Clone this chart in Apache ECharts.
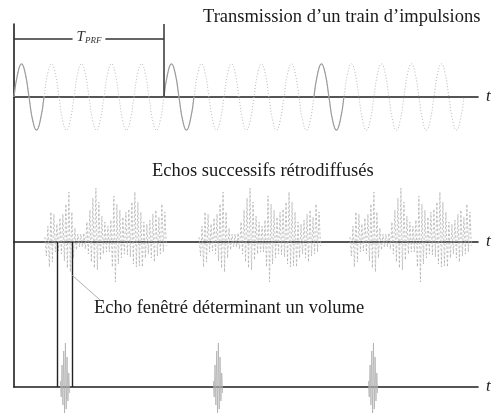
<!DOCTYPE html>
<html><head><meta charset="utf-8">
<script src="https://cdn.jsdelivr.net/npm/echarts@6/dist/echarts.min.js"></script>
<style>html,body{margin:0;padding:0;background:#fff}#c{width:492px;height:415px}</style>
</head><body><div id="c"></div>
<script>
// ---- data (time unit = one carrier period) ----
const carrierCycle = [0, 0.71, 1, 0.71, 0, -0.71, -1, -0.71];   // one period of the emitted carrier
const pulseCycleCount = 15;                                       // periods drawn on the transmit line
const pulseSolidCycles = [0, 5, 10];                              // emitted pulses (solid)
const tPRF = 5;                                                   // pulse repetition period
const echoPeaks = [5,-14,16,-25,30,-20,28,-10,18,-9,24,-12,28,-19,38,-26,50,-30,30,-16,
  14,-8,8,-5,8,-5,9,-7,20,-12,32,-20,44,-26,54,-28,40,-18,26,-12,
  20,-10,16,-10,22,-25,46,-40,38,-22,32,-16,25,-12,30,-13,33,-15,40,-22,
  50,-25,40,-24,30,-25,20,-16,18,-12,22,-16,28,-20,32,-14,25,-12,38,-10,30,-4];
const echoStarts = [1.03, 6.17, 11.2];
const echoStep = 0.05;
const windowPeaks = [6, -10, 22, -18, 36, -26, 44, -22, 30, -14, 14, -6];
const windowCenters = [1.7, 6.8, 11.97];
const windowStep = 0.028;
const windowEdges = [1.45, 1.93];
const axisEnd = 15.47;
const texts = {
  transmit: 'Transmission d’un train d’impulsions',
  echoes: 'Echos successifs rétrodiffusés',
  window: 'Echo fenêtré déterminant un volume',
  t: 't'
};

// ---- build series data ----
function cyclePts(c) {
  const n = carrierCycle.length;
  const pts = carrierCycle.map((v, k) => [c + k / n, v]);
  pts.push([c + 1, carrierCycle[0]]);
  return pts;
}
let dotted = [];
for (let c = 0; c < pulseCycleCount; c++) {
  const p = cyclePts(c);
  dotted = dotted.concat(c === 0 ? p : p.slice(1));
}
const serif = '"Liberation Serif", "DejaVu Serif", serif';
const axisColor = '#1e1e1e';
const series = [];
series.push({
  type: 'line', xAxisIndex: 0, yAxisIndex: 0, data: dotted, smooth: true, symbol: 'none',
  lineStyle: { color: '#b8b8b8', width: 1, type: [1, 2] }, silent: true,
  markLine: {
    silent: true, symbol: ['none', 'none'],
    lineStyle: { color: '#333', width: 1.5, type: 'solid' },
    data: [
      [{ coord: [0, 1.75], label: { show: true, position: 'middle', distance: -7,
          formatter: '{t|T}{s|PRF}', backgroundColor: '#fff', padding: [0, 4, 0, 4],
          rich: { t: { fontFamily: serif, fontStyle: 'italic', fontSize: 15, color: '#333', lineHeight: 17 },
                  s: { fontFamily: serif, fontStyle: 'italic', fontSize: 9, color: '#333', lineHeight: 17, padding: [7, 0, 0, 0] } } } },
       { coord: [tPRF, 1.75] }],
      [{ coord: [tPRF, 0], label: { show: false } }, { coord: [tPRF, 2.2] }]
    ]
  }
});
pulseSolidCycles.forEach(c => series.push({
  type: 'line', xAxisIndex: 0, yAxisIndex: 0, data: cyclePts(c), smooth: true, symbol: 'none',
  lineStyle: { color: '#9c9c9c', width: 1.2 }, silent: true, z: 3
}));
echoStarts.forEach(s => series.push({
  type: 'line', xAxisIndex: 1, yAxisIndex: 1, symbol: 'none', silent: true, clip: false,
  data: echoPeaks.map((v, i) => [s + i * echoStep, v]),
  lineStyle: { color: '#b0b0b0', width: 0.75, type: [2.5, 1.8] }
}));
windowCenters.forEach((c, j) => {
  const h = (windowPeaks.length - 1) / 2;
  const ser = {
    type: 'line', xAxisIndex: 2, yAxisIndex: 2, symbol: 'none', silent: true, clip: false,
    data: windowPeaks.map((v, i) => [c + (i - h) * windowStep, v]),
    lineStyle: { color: '#b0b0b0', width: 0.8 }
  };
  if (j === 0) {
    ser.markLine = {
      silent: true, symbol: ['none', 'none'], label: { show: false },
      data: [
        { xAxis: windowEdges[0], lineStyle: { color: '#222', width: 1.4, type: 'solid' } },
        { xAxis: windowEdges[1], lineStyle: { color: '#222', width: 1.4, type: 'solid' } },
        [{ coord: [windowEdges[1], 112], lineStyle: { color: '#999', width: 0.8, type: 'solid' } }, { coord: [2.87, 87] }]
      ]
    };
  }
  series.push(ser);
});

const hidden = { show: false };
function tAxis(grid) {
  return {
    type: 'value', gridIndex: grid, min: 0, max: axisEnd,
    axisLine: { show: true, onZero: true, lineStyle: { color: axisColor, width: 1.6 } },
    axisTick: hidden, axisLabel: hidden, splitLine: hidden,
    name: texts.t, nameLocation: 'end', nameGap: 8,
    nameTextStyle: { fontFamily: serif, fontStyle: 'italic', fontSize: 17, color: '#222', verticalAlign: 'middle' }
  };
}
function ampAxis(grid, mn, mx) {
  return { type: 'value', gridIndex: grid, min: mn, max: mx, show: false };
}
const titleStyle = { fontFamily: serif, fontSize: 18.5, fontWeight: 'normal', color: '#1a1a1a' };
const option = {
  animation: false,
  backgroundColor: '#fff',
  title: [
    { text: texts.transmit, left: 203, top: 8, padding: 0, textStyle: titleStyle },
    { text: texts.echoes, left: 152, top: 162, padding: 0, textStyle: titleStyle },
    { text: texts.window, left: 94, top: 299, padding: 0, textStyle: titleStyle }
  ],
  grid: [
    { left: 14, right: 14, top: 24, height: 146 },
    { left: 14, right: 14, top: 182, height: 120 },
    { left: 14, right: 14, top: 242, height: 145 },
    { left: 14, right: 14, top: 24, height: 363 }
  ],
  xAxis: [tAxis(0), tAxis(1), tAxis(2),
    { type: 'value', gridIndex: 3, min: 0, max: 1, show: false }],
  yAxis: [ampAxis(0, -2.2, 2.2), ampAxis(1, -60, 60), ampAxis(2, 0, 145),
    { type: 'value', gridIndex: 3, min: 0, max: 1, position: 'left',
      axisLine: { show: true, onZero: false, lineStyle: { color: axisColor, width: 1.6 } },
      axisTick: hidden, axisLabel: hidden, splitLine: hidden }],
  series: series
};
const chart = echarts.init(document.getElementById('c'), null, { renderer: 'canvas' });
chart.setOption(option);
</script></body></html>
